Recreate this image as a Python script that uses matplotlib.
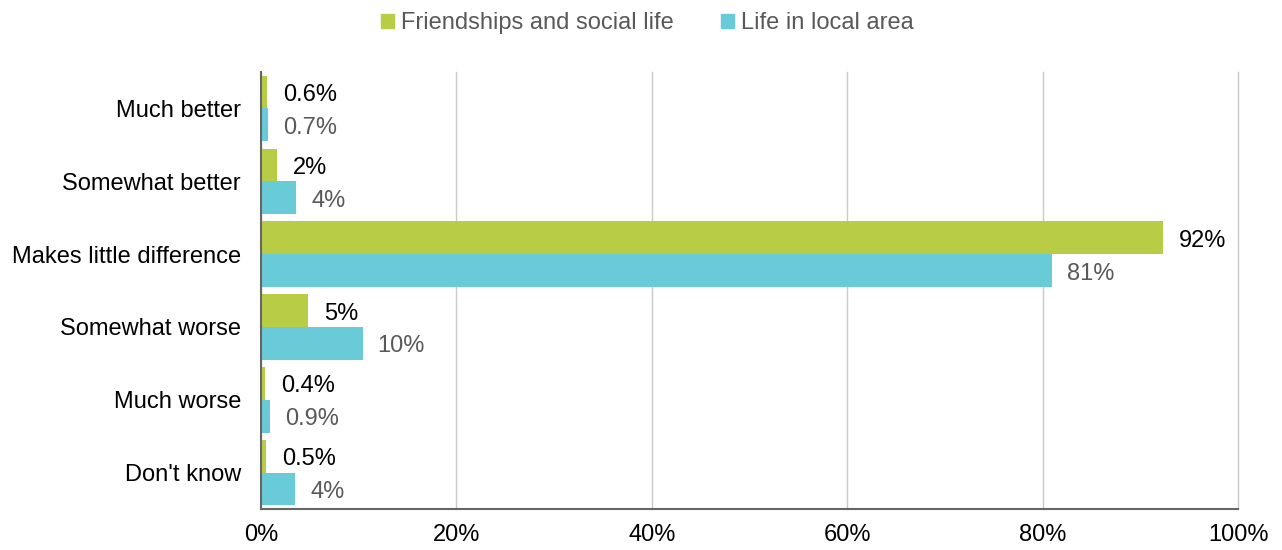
import matplotlib
matplotlib.use("Agg")
import matplotlib.pyplot as plt
import numpy as np
from matplotlib.patches import Patch

plt.rcParams["font.family"] = ["Liberation Sans", "DejaVu Sans"]

CATEGORIES = ["Much better", "Somewhat better", "Makes little difference",
              "Somewhat worse", "Much worse", "Don't know"]
FRIENDSHIPS = [0.6, 1.6, 92.3, 4.8, 0.4, 0.5]
LOCAL_AREA = [0.7, 3.6, 81.0, 10.4, 0.9, 3.5]
FRIENDSHIPS_LABELS = ["0.6%", "2%", "92%", "5%", "0.4%", "0.5%"]
LOCAL_AREA_LABELS = ["0.7%", "4%", "81%", "10%", "0.9%", "4%"]
XTICKS = [0, 20, 40, 60, 80, 100]

GREEN = "#b9cc45"
BLUE = "#69cbd7"
FS = 17

fig = plt.figure(figsize=(12.82, 5.5), dpi=100)
ax = fig.add_axes([0.2036, 0.0745, 0.7621, 0.7945])

y = np.arange(len(CATEGORIES))
h = 0.45
ax.barh(y - h / 2, FRIENDSHIPS, height=h, color=GREEN, zorder=3)
ax.barh(y + h / 2, LOCAL_AREA, height=h, color=BLUE, zorder=3)

for yi, v, lab in zip(y, FRIENDSHIPS, FRIENDSHIPS_LABELS):
    ax.annotate(lab, (v, yi - h / 2), xytext=(16, -3), textcoords="offset pixels",
                va="center", ha="left", fontsize=FS, color="black")
for yi, v, lab in zip(y, LOCAL_AREA, LOCAL_AREA_LABELS):
    ax.annotate(lab, (v, yi + h / 2), xytext=(15, -3), textcoords="offset pixels",
                va="center", ha="left", fontsize=FS, color="#595959")

ax.set_ylim(len(CATEGORIES) - 0.5, -0.5)
ax.set_xlim(0, 100)
ax.set_yticks(y)
ax.set_yticklabels(CATEGORIES, fontsize=FS)
ax.set_xticks(XTICKS)
ax.set_xticklabels([f"{t}%" for t in XTICKS], fontsize=FS)
ax.tick_params(axis="both", length=0)
ax.tick_params(axis="y", pad=14.5)
ax.tick_params(axis="x", pad=11)

ax.grid(axis="x", color="#c8c8c8", linewidth=1, zorder=0)
for gl in ax.get_xgridlines():
    gl.set_clip_on(False)
for s in ["top", "right"]:
    ax.spines[s].set_visible(False)
for s in ["left", "bottom"]:
    ax.spines[s].set_color("#666666")
    ax.spines[s].set_linewidth(1.5)
    ax.spines[s].set_zorder(4)

handles = [Patch(color=GREEN, label="Friendships and social life"),
           Patch(color=BLUE, label="Life in local area")]
leg = fig.legend(handles=handles, loc="center", bbox_to_anchor=(0.505, 0.958),
                 ncol=2, frameon=False, fontsize=FS, handlelength=0.55,
                 handleheight=0.55, handletextpad=0.3, columnspacing=2.0)
for t in leg.get_texts():
    t.set_color("#595959")

fig.savefig("out.png", dpi=100, facecolor="white")
